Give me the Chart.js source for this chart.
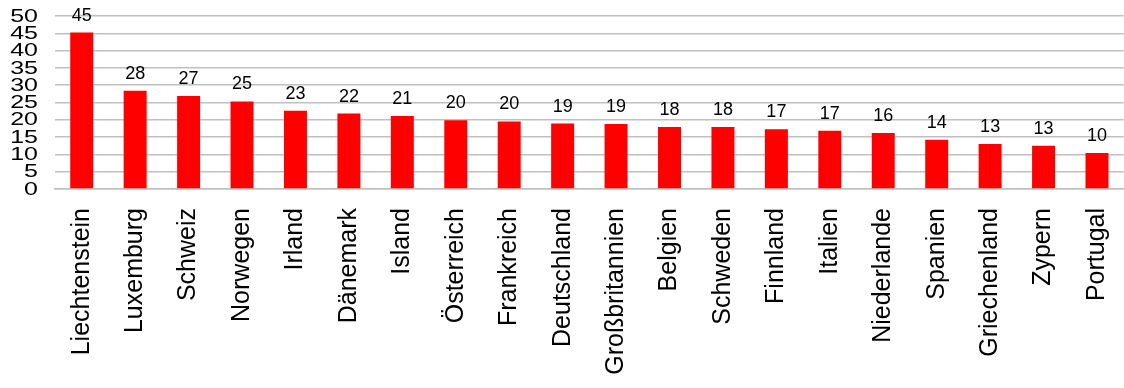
<!DOCTYPE html>
<html>
<head>
<meta charset="utf-8">
<script src="https://cdn.jsdelivr.net/npm/chart.js@4.4.1/dist/chart.umd.min.js"></script>
<style>
    html, body { margin: 0; padding: 0; background: #fff; }
    #wrap { width: 1124px; height: 388px; }
</style>
</head>
<body>
<div id="wrap"><canvas id="chart"></canvas></div>
<script>
const countries = ['Liechtenstein', 'Luxemburg', 'Schweiz', 'Norwegen', 'Irland', 'Dänemark', 'Island',
    'Österreich', 'Frankreich', 'Deutschland', 'Großbritannien', 'Belgien', 'Schweden', 'Finnland',
    'Italien', 'Niederlande', 'Spanien', 'Griechenland', 'Zypern', 'Portugal'];
const values = [45.2, 28.4, 26.9, 25.3, 22.6, 21.8, 21.1, 19.9, 19.5, 18.9, 18.8, 17.9, 17.9, 17.3,
    16.8, 16.2, 14.2, 13.0, 12.5, 10.4];
const yTicks = [0, 5, 10, 15, 20, 25, 30, 35, 40, 45, 50];

// value labels above the bars
const barLabels = {
    id: 'barLabels',
    afterDatasetsDraw(chart) {
        const ctx = chart.ctx;
        const meta = chart.getDatasetMeta(0);
        ctx.save();
        ctx.font = '18px "Liberation Sans", Arial, sans-serif';
        ctx.fillStyle = '#000';
        ctx.textAlign = 'center';
        ctx.textBaseline = 'bottom';
        meta.data.forEach((bar, i) => {
            ctx.fillText(Math.round(values[i]), bar.x, bar.y - 8);
        });
        ctx.restore();
    }
};

// y tick labels, squeezed vertically like the original
const yLabels = {
    id: 'yLabels',
    afterDraw(chart) {
        const ctx = chart.ctx;
        const scale = chart.scales.y;
        ctx.save();
        ctx.font = '25px "Liberation Sans", Arial, sans-serif';
        ctx.fillStyle = '#000';
        ctx.textAlign = 'right';
        ctx.textBaseline = 'middle';
        yTicks.forEach(v => {
            const y = scale.getPixelForValue(v);
            ctx.save();
            ctx.translate(38, y);
            ctx.scale(1, 0.72);
            ctx.fillText(String(v), 0, 1);
            ctx.restore();
        });
        ctx.restore();
    }
};

new Chart(document.getElementById('chart'), {
    type: 'bar',
    data: {
        labels: countries,
        datasets: [{
            data: values,
            backgroundColor: '#ff0000',
            barPercentage: 0.43,
            categoryPercentage: 1
        }]
    },
    options: {
        responsive: true,
        maintainAspectRatio: false,
        animation: false,
        layout: { padding: { top: 16, right: 0, bottom: 0, left: 0 } },
        plugins: {
            legend: { display: false },
            tooltip: { enabled: false }
        },
        scales: {
            x: {
                afterFit(scale) { scale.height = 199; },
                grid: { display: true, drawOnChartArea: false, color: 'rgba(0,0,0,0)', tickLength: 17 },
                border: { color: '#c0c0c0', width: 1.5 },
                ticks: {
                    minRotation: 90,
                    maxRotation: 90,
                    autoSkip: false,
                    padding: 2,
                    color: '#000',
                    font: { family: '"Liberation Sans", Arial, sans-serif', size: 25, lineHeight: 1 }
                }
            },
            y: {
                min: 0,
                max: 50,
                afterFit(scale) { scale.width = 55; },
                grid: { color: '#c0c0c0', lineWidth: 1.5, drawTicks: false },
                border: { display: false },
                ticks: { display: false, stepSize: 5, autoSkip: false }
            }
        }
    },
    plugins: [barLabels, yLabels]
});
</script>
</body>
</html>
